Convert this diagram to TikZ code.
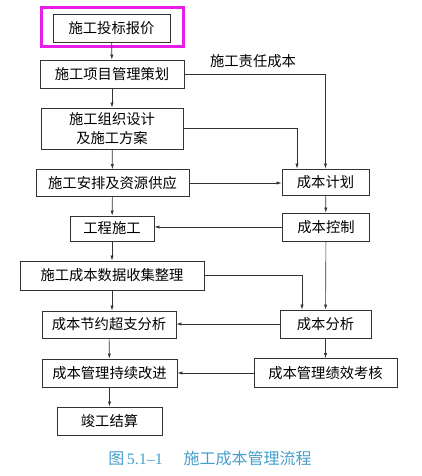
\documentclass[tikz,border=0pt]{standalone}
\usepackage{fontspec}
\setmainfont{Noto Sans CJK SC}
\newfontfamily\latinserif{Liberation Serif}
\usepackage{xcolor}
\usepackage{tikz}
\usetikzlibrary{arrows.meta,calc,positioning}
\definecolor{capblue}{RGB}{70,158,205}
\definecolor{hilite}{RGB}{232,30,232}

\begin{document}
\begin{tikzpicture}[x=1pt,y=-1pt,font=\fontsize{14.3}{19}\selectfont,>={Latex[length=5pt,width=3.2pt]},
  stepbox/.style={draw=black!80,line width=0.7pt,inner sep=0pt,align=center,minimum height=#1},
  stepbox/.default=28pt,
  flow/.style={->,draw=black!80,line width=0.65pt}]
  \useasboundingbox (0,0) rectangle (421,476);
  % left column
  \node[stepbox,minimum width=117pt] (bid) at (111.5,28) {施工投标报价};
  \node[stepbox,minimum width=144pt] (plan) at (112,74) {施工项目管理策划};
  \node[stepbox=41pt,minimum width=142pt] (design) at (112,128.5) {施工组织设计\\及施工方案};
  \node[stepbox=27pt,minimum width=153pt] (supply) at (112.5,183) {施工安排及资源供应};
  \node[stepbox=25pt,minimum width=84pt] (build) at (112,228.5) {工程施工};
  \node[stepbox=29pt,minimum width=184pt] (data) at (112,275.5) {施工成本数据收集整理};
  \node[stepbox=27pt,minimum width=134pt] (saving) at (109,324.5) {成本节约超支分析};
  \node[stepbox,minimum width=135pt] (improve) at (109.5,373) {成本管理持续改进};
  \node[stepbox,minimum width=105pt] (settle) at (109.5,421) {竣工结算};
  % right column
  \node[stepbox=26pt,minimum width=87pt] (cplan) at (325.5,182) {成本计划};
  \node[stepbox,minimum width=87pt] (cctrl) at (326,227) {成本控制};
  \node[stepbox=28pt,minimum width=91pt] (canal) at (325.5,324) {成本分析};
  \node[stepbox=29pt,minimum width=143pt] (cperf) at (325.5,373) {成本管理绩效考核};
  % highlight
  \draw[hilite,line width=3pt] (41,8) rectangle (183,47);
  \node (resp) at (253,61) {施工责任成本};
  % connectors
  \draw[flow] (bid) -- (plan);
  \draw[flow] (plan) -- (design);
  \draw[flow] (design) -- (supply);
  \draw[flow] (supply) -- (build);
  \draw[flow] (build) -- (data);
  \draw[flow] (data.south) -- (data.south |- saving.north);
  \draw[flow] (saving) -- (improve);
  \draw[flow] (improve) -- (settle);
  \draw[flow] (plan.east) -| (cplan.north);
  \draw[flow] (design.east) -| ([xshift=-28.5pt]cplan.north);
  \draw[flow] (supply.east) -- (supply.east -| cplan.west);
  \draw[flow] (cplan) -- (cctrl);
  \draw[flow] (cctrl.west) -- (cctrl.west -| build.east);
  \draw[flow] (cctrl) -- (canal);
  \draw[flow] (data.east) -| ([xshift=-23.5pt]canal.north);
  \draw[flow] (canal.west) -- (canal.west -| saving.east);
  \draw[flow] (canal) -- (cperf);
  \draw[flow] (cperf.west) -- (cperf.west -| improve.east);
  % caption
  \node[capblue,font=\fontsize{16}{18}\selectfont] (cap) at (210,458)
    {图\,{\latinserif 5.1\textendash 1}\hspace{1.3em}施工成本管理流程};
\end{tikzpicture}
\end{document}
